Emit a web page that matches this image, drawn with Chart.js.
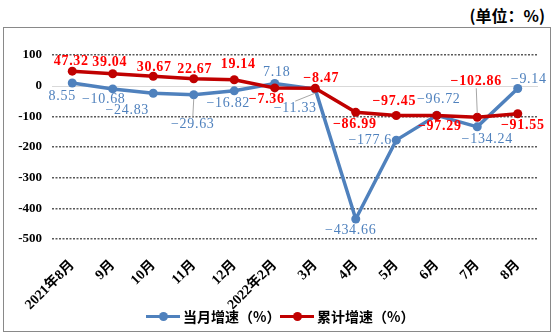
<!DOCTYPE html>
<html>
<head>
<meta charset="utf-8">
<script src="https://cdn.jsdelivr.net/npm/chart.js@4.4.1/dist/chart.umd.min.js"></script>
<style>
  body { margin: 0; width: 557px; height: 333px; background: #fff; position: relative; overflow: hidden;
         font-family: "Noto Sans CJK SC", sans-serif; }
  .unit { position: absolute; right: 12px; top: 3px; font-size: 16px; font-weight: bold; color: #000; }
  .frame { position: absolute; left: 3px; top: 27px; width: 546px; height: 303px; border: 1px solid #898989; }
  .frame canvas { display: block; }
  .legend-item { position: absolute; top: 306px; height: 20px; display: flex; align-items: center;
                 font-size: 14px; font-weight: bold; color: #000; }
  .marker { position: relative; width: 34px; height: 3px; margin-right: 3px; }
  .marker i { position: absolute; left: 13px; top: -3px; width: 9px; height: 9px; border-radius: 50%; }
</style>
</head>
<body>
<div class="unit">(单位：%)</div>
<div class="frame"><canvas id="chart1" width="546" height="303"></canvas></div>
<div class="legend-item" style="left:146px"><span class="marker" style="background:#4F81BD"><i style="background:#4F81BD"></i></span>当月增速（%）</div>
<div class="legend-item" style="left:280px"><span class="marker" style="background:#C00000"><i style="background:#C00000"></i></span>累计增速（%）</div>
<script>
const months = ['2021年8月', '9月', '10月', '11月', '12月', '2022年2月', '3月', '4月', '5月', '6月', '7月', '8月'];
const monthRate = [8.55, -10.68, -24.83, -29.63, -16.82, 7.18, -11.33, -434.66, -177.6, -96.72, -134.24, -9.14];
const totalRate = [47.32, 39.04, 30.67, 22.67, 19.14, -7.36, -8.47, -86.99, -97.45, -97.29, -102.86, -91.55];
const yTicks = [100, 0, -100, -200, -300, -400, -500];

const BLUE = '#4F81BD';
const RED = '#C00000';

// where each value label sits relative to its point, and which ones get a leader line
const labelSpots = [
  { color: '#4F81BD', bold: false, leaders: [3, 6],
    offsets: [[-10,13],[-9,10],[-26,17],[-1,30],[-6,13],[2,-11],[-20,19],[-5,11],[-26,0],[2,-16],[10,12],[11,-9]] },
  { color: '#FF0000', bold: true, leaders: [10],
    offsets: [[-1,-10],[-3,-11],[1,-9],[1,-9],[4,-15],[-8,11],[6,-10],[-1,12],[-2,-14],[3,11],[-1,-36],[5,12]] }
];

const valueLabels = {
  id: 'valueLabels',
  beforeDatasetsDraw(chart) {
    // solid light line at zero
    const ctx = chart.ctx;
    const y0 = Math.round(chart.scales.y.getPixelForValue(0)) + 0.5;
    ctx.save();
    ctx.strokeStyle = '#d9d9d9';
    ctx.lineWidth = 1;
    ctx.beginPath();
    ctx.moveTo(chart.chartArea.left, y0);
    ctx.lineTo(chart.chartArea.right, y0);
    ctx.stroke();
    ctx.restore();
  },
  afterDatasetsDraw(chart) {
    const ctx = chart.ctx;
    ctx.save();
    chart.data.datasets.forEach((ds, di) => {
      const spot = labelSpots[di];
      const meta = chart.getDatasetMeta(di);
      meta.data.forEach((pt, i) => {
        const [dx, dy] = spot.offsets[i];
        const lx = pt.x + dx, ly = pt.y + dy;
        if (spot.leaders.includes(i)) {
          const dir = dy > 0 ? 1 : -1;
          ctx.strokeStyle = '#a6a6a6';
          ctx.lineWidth = 1;
          ctx.beginPath();
          ctx.moveTo(pt.x, pt.y + dir * 4);
          ctx.lineTo(lx, ly - dir * 7);
          ctx.stroke();
        }
        ctx.fillStyle = spot.color;
        ctx.font = (spot.bold ? 'bold ' : '') + '14px "Liberation Serif", serif';
        ctx.letterSpacing = '0.7px';
        ctx.textAlign = 'center';
        ctx.textBaseline = 'middle';
        ctx.fillText(String(ds.data[i]).replace('-', '−'), lx, ly);
      });
    });
    ctx.restore();
  }
};

const tickFont = { family: '"Liberation Serif", "Noto Sans CJK SC", serif', size: 13, weight: 'bold' };

new Chart(document.getElementById('chart1'), {
  type: 'line',
  data: {
    labels: months,
    datasets: [{
      label: '当月增速（%）',
      data: monthRate,
      borderColor: BLUE,
      backgroundColor: BLUE,
      borderWidth: 3.5,
      pointRadius: 4.5,
      pointBorderWidth: 0,
      order: 1
    }, {
      label: '累计增速（%）',
      data: totalRate,
      borderColor: RED,
      backgroundColor: RED,
      borderWidth: 3.5,
      pointRadius: 4.5,
      pointBorderWidth: 0,
      order: 0
    }]
  },
  options: {
    responsive: false,
    animation: false,
    layout: { padding: { top: 27, right: 12, left: 0, bottom: 0 } },
    plugins: { legend: { display: false }, tooltip: { enabled: false } },
    scales: {
      x: {
        offset: true,
        grid: { display: false },
        border: { display: false },
        ticks: { color: '#000', font: { ...tickFont, size: 14 }, maxRotation: 45, minRotation: 45, padding: 10, autoSkip: false },
        afterFit(scale) { scale.height = 92; }
      },
      y: {
        min: Math.min(...yTicks),
        max: Math.max(...yTicks),
        afterBuildTicks(scale) { scale.ticks = yTicks.map(v => ({ value: v })); },
        grid: {
          color: c => c.tick && c.tick.value === 0 ? 'rgba(0,0,0,0)' : '#595959',
          lineWidth: 1.5,
          drawTicks: false
        },
        border: { display: false, dash: [2, 1.5] },
        ticks: { color: '#000', font: tickFont, padding: 10 },
        afterFit(scale) { scale.width = 48; }
      }
    }
  },
  plugins: [valueLabels]
});
</script>
</body>
</html>
